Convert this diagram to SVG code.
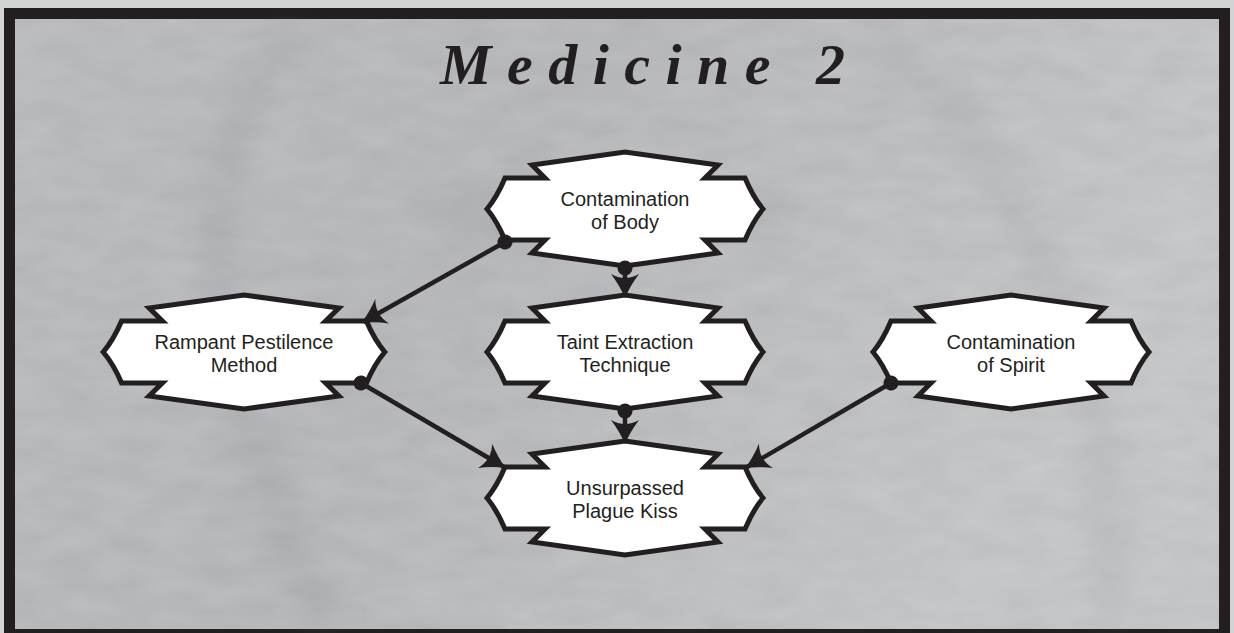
<svg xmlns="http://www.w3.org/2000/svg" xmlns:xlink="http://www.w3.org/1999/xlink" width="1234" height="633" viewBox="0 0 1234 633">
  <defs>
    <style>
      .shape { fill: #ffffff; stroke: #231f20; stroke-width: 5; stroke-linejoin: miter; }
      .lbl { font-family: "Liberation Sans", Arial, sans-serif; font-size: 20px; fill: #231f20; text-anchor: middle; }
      .edge { stroke: #231f20; stroke-width: 4.5; fill: none; marker-start: url(#dot); marker-end: url(#arrow); }
      .title { font-family: "Liberation Serif", "Times New Roman", serif; font-style: italic; font-weight: bold; font-size: 58px; fill: #231f20; }
    </style>
    <linearGradient id="bg" x1="0" y1="0" x2="1" y2="0.3">
      <stop offset="0" stop-color="#aeb0b3"/>
      <stop offset="0.45" stop-color="#a9abae"/>
      <stop offset="1" stop-color="#bcbec0"/>
    </linearGradient>
    <filter id="tex" x="0" y="0" width="100%" height="100%">
      <feTurbulence type="fractalNoise" baseFrequency="0.02 0.05" numOctaves="3" seed="7"/>
      <feColorMatrix values="0.35 0 0 0 0.5  0.35 0 0 0 0.5  0.35 0 0 0 0.51  0 0 0 0 0.28"/>
    </filter>
    <filter id="blur" x="-20%" y="-20%" width="140%" height="140%">
      <feGaussianBlur stdDeviation="16"/>
    </filter>
    <path id="plaque" d="M-138,0 Q-128,-12 -120,-31 L-80,-31 L-93,-44 L0,-57 L93,-44 L80,-31 L120,-31 Q128,-12 138,0 Q128,12 120,31 L80,31 L93,44 L0,57 L-93,44 L-80,31 L-120,31 Q-128,12 -138,0 Z"/>
    <marker id="arrow" markerUnits="userSpaceOnUse" orient="auto" overflow="visible" viewBox="-26 -16 30 32" refX="0" refY="0" markerWidth="30" markerHeight="32">
      <path d="M2,0 Q-10,-5 -22,-14 Q-14,0 -22,14 Q-10,5 2,0 Z" fill="#231f20"/>
    </marker>
    <marker id="dot" markerUnits="userSpaceOnUse" orient="auto" overflow="visible" viewBox="-8 -8 16 16" refX="0" refY="0" markerWidth="16" markerHeight="16">
      <circle cx="0" cy="0" r="7.5" fill="#231f20"/>
    </marker>
  </defs>

  <!-- frame and background -->
  <rect x="0" y="0" width="1234" height="633" fill="#d2d3d4"/>
  <rect x="4" y="8" width="1226" height="630" fill="#231f20"/>
  <rect x="15" y="19" width="1204" height="610" fill="url(#bg)"/>
  <rect x="15" y="19" width="1204" height="610" filter="url(#tex)"/>
  <g opacity="0.2" filter="url(#blur)">
    <path d="M300,30 Q120,200 330,629" stroke="#7e8084" stroke-width="24" fill="none"/>
    <path d="M880,40 Q1120,260 1110,629" stroke="#7e8084" stroke-width="20" fill="none"/>
    <path d="M440,210 Q620,240 790,210" stroke="#7e8084" stroke-width="30" fill="none"/>
  </g>

  <!-- title -->
  <text class="title" x="440" y="84" textLength="405" lengthAdjust="spacing">Medicine 2</text>

  <!-- nodes -->
  <g id="node-contamination-body">
    <use xlink:href="#plaque" class="shape" transform="translate(625,209)"/>
    <text class="lbl" x="625" y="206">Contamination</text>
    <text class="lbl" x="625" y="229">of Body</text>
  </g>
  <g id="node-rampant-pestilence">
    <use xlink:href="#plaque" class="shape" transform="translate(244,352) scale(1.02,1)"/>
    <text class="lbl" x="244" y="349">Rampant Pestilence</text>
    <text class="lbl" x="244" y="372">Method</text>
  </g>
  <g id="node-taint-extraction">
    <use xlink:href="#plaque" class="shape" transform="translate(625,352)"/>
    <text class="lbl" x="625" y="349">Taint Extraction</text>
    <text class="lbl" x="625" y="372">Technique</text>
  </g>
  <g id="node-contamination-spirit">
    <use xlink:href="#plaque" class="shape" transform="translate(1011,352)"/>
    <text class="lbl" x="1011" y="349">Contamination</text>
    <text class="lbl" x="1011" y="372">of Spirit</text>
  </g>
  <g id="node-unsurpassed-plague-kiss">
    <use xlink:href="#plaque" class="shape" transform="translate(625,498)"/>
    <text class="lbl" x="625" y="495">Unsurpassed</text>
    <text class="lbl" x="625" y="518">Plague Kiss</text>
  </g>

  <!-- connectors -->
  <g id="connectors">
    <line class="edge" x1="505" y1="242" x2="363" y2="322"/>
    <line class="edge" x1="625" y1="268" x2="625" y2="296"/>
    <line class="edge" x1="361" y1="383" x2="504" y2="467"/>
    <line class="edge" x1="625" y1="411" x2="625" y2="442"/>
    <line class="edge" x1="891" y1="383" x2="747" y2="467"/>
  </g>
</svg>
